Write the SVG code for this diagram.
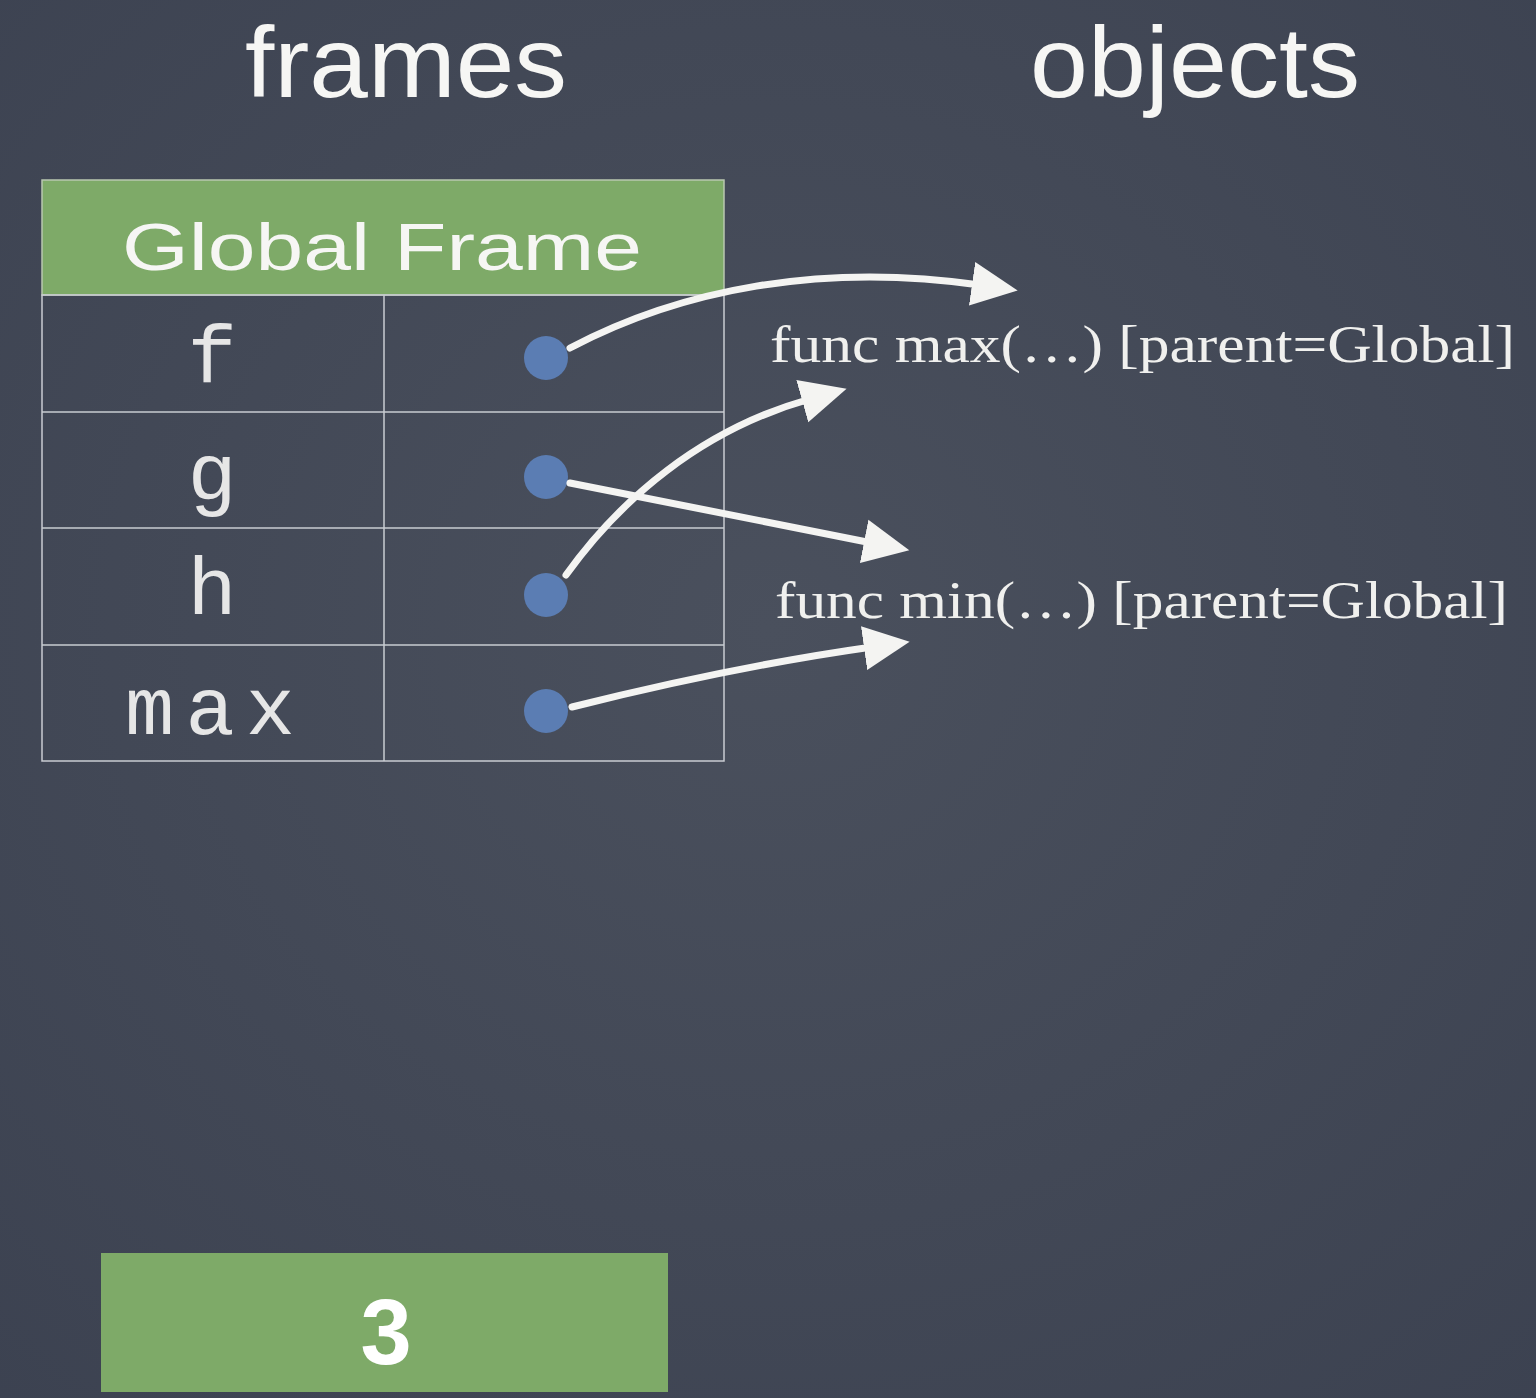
<svg xmlns="http://www.w3.org/2000/svg" width="1536" height="1398" viewBox="0 0 1536 1398">
<defs>
<radialGradient id="bg" cx="0.5" cy="0.45" r="0.8">
<stop offset="0" stop-color="#4a505d"/>
<stop offset="1" stop-color="#3b4150"/>
</radialGradient>
<marker id="head" markerUnits="userSpaceOnUse" markerWidth="50" markerHeight="50" refX="8" refY="25" orient="auto">
<path d="M0,3 L46,25 L0,47 Z" fill="#f4f4f2"/>
</marker>
<style>
.title{font-family:"Liberation Sans","DejaVu Sans",sans-serif;fill:#f6f6f4;}
.cell{fill:none;stroke:#c9ccd2;stroke-width:1.5;}
.name{font-family:"Liberation Mono","DejaVu Sans Mono",monospace;font-size:82px;fill:#e6e6e6;text-anchor:middle;}
.dot{fill:#5b7db3;}
.obj{font-family:"Liberation Serif","Times New Roman",serif;font-size:52px;fill:#f0f0ee;}
.arrow{fill:none;stroke:#f4f4f2;stroke-width:7;stroke-linecap:round;marker-end:url(#head);}
.green{fill:#7eaa68;}
</style>
</defs>
<rect width="1536" height="1398" fill="url(#bg)"/>
<text class="title" x="406" y="97" font-size="100" text-anchor="middle" textLength="322" lengthAdjust="spacingAndGlyphs">frames</text>
<text class="title" x="1195" y="97" font-size="100" text-anchor="middle" textLength="330" lengthAdjust="spacingAndGlyphs">objects</text>
<g id="global-frame">
<rect class="green" x="42" y="180" width="682" height="115" stroke="#b9c7b0" stroke-width="1.5"/>
<text class="title" x="382" y="270" font-size="66" text-anchor="middle" textLength="520" lengthAdjust="spacingAndGlyphs">Global Frame</text>
<rect class="cell" x="42" y="295" width="682" height="466"/>
<line class="cell" x1="384" y1="295" x2="384" y2="761"/>
<line class="cell" x1="42" y1="412" x2="724" y2="412"/>
<line class="cell" x1="42" y1="528" x2="724" y2="528"/>
<line class="cell" x1="42" y1="645" x2="724" y2="645"/>
</g>
<g id="row-f">
<text class="name" x="212" y="382">f</text>
<circle class="dot" cx="546" cy="358" r="22"/>
</g>
<g id="row-g">
<text class="name" x="212" y="500">g</text>
<circle class="dot" cx="546" cy="477" r="22"/>
</g>
<g id="row-h">
<text class="name" x="212" y="614">h</text>
<circle class="dot" cx="546" cy="595" r="22"/>
</g>
<g id="row-max">
<text class="name" x="210" y="734" textLength="170" lengthAdjust="spacing">max</text>
<circle class="dot" cx="546" cy="711" r="22"/>
</g>
<g id="obj-max">
<text class="obj" x="770" y="362" textLength="745" lengthAdjust="spacingAndGlyphs">func max(…) [parent=Global]</text>
</g>
<g id="obj-min">
<text class="obj" x="775" y="618" textLength="733" lengthAdjust="spacingAndGlyphs">func min(…) [parent=Global]</text>
</g>
<g id="connectors">
<path class="arrow" d="M570,348 C680,290 820,262 980,285"/>
<path class="arrow" d="M566,575 C620,500 700,430 810,399"/>
<path class="arrow" d="M570,483 C680,505 780,525 872,543"/>
<path class="arrow" d="M572,707 C680,680 780,660 872,647"/>
</g>
<g id="result">
<rect class="green" x="101" y="1253" width="567" height="139"/>
<text x="386" y="1364" font-family="Liberation Sans,DejaVu Sans,sans-serif" font-weight="bold" font-size="92" fill="#ffffff" text-anchor="middle">3</text>
</g>
</svg>
